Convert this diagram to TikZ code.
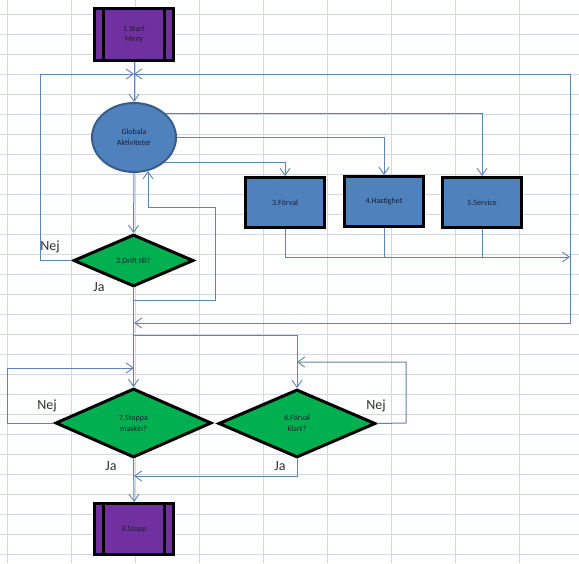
\documentclass[tikz,border=0pt]{standalone}
\usepackage{fontspec}
\setmainfont{Carlito}
\usetikzlibrary{shapes.geometric,arrows.meta,calc}
\definecolor{gridc}{HTML}{D0D7E5}
\definecolor{purp}{HTML}{7030A0}
\definecolor{boxblue}{HTML}{4F81BD}
\definecolor{ellborder}{HTML}{385D8A}
\definecolor{dgreen}{HTML}{00B050}
\definecolor{connc}{HTML}{5F82B9}
\definecolor{txtc}{HTML}{1E1E32}
\definecolor{lblc}{HTML}{303030}
\tikzset{
  subproc/.style={rectangle, draw=black, line width=3pt, fill=purp, minimum width=79pt, minimum height=52pt, inner sep=0pt, align=center, text=txtc, font=\fontsize{8}{9.5}\selectfont,
    path picture={\draw[line width=3pt] ([xshift=9pt]path picture bounding box.north west) -- ([xshift=9pt]path picture bounding box.south west);
                  \draw[line width=3pt] ([xshift=-9pt]path picture bounding box.north east) -- ([xshift=-9pt]path picture bounding box.south east);}},
  procbox/.style={rectangle, draw=black, line width=3pt, fill=boxblue, minimum width=79pt, minimum height=50pt, inner sep=0pt, align=center, text=txtc, font=\fontsize{8}{9.5}\selectfont},
  globell/.style={ellipse, draw=ellborder, line width=2pt, fill=boxblue, minimum width=84pt, minimum height=69pt, inner sep=0pt, align=center, text=txtc, font=\fontsize{8}{11}\selectfont},
  decis/.style={diamond, draw=black, line width=3pt, fill=dgreen, inner sep=0pt, align=center, text=txtc, font=\fontsize{8}{11}\selectfont},
  conn/.style={draw=connc, line width=1pt},
  arr/.style={conn, -{Straight Barb[length=7pt,width=10pt,line width=0.9pt]}},
  lbl/.style={text=lblc, font=\fontsize{14}{16}\selectfont, inner sep=0pt},
  gridline/.style={draw=gridc, line width=0.8pt}
}
\begin{document}
\begin{tikzpicture}[x=1pt,y=-1pt]
\useasboundingbox (0,0) rectangle (579,563);
\fill[white] (0,0) rectangle (579,563);
% spreadsheet grid
\foreach \gx in {7,71,135,199,263,327,391,455,519} {\draw[gridline] (\gx,0) -- (\gx,563);}
\foreach \k in {0,...,27} {\draw[gridline] (0,14+20*\k) -- (579,14+20*\k);}

% nodes
\node[subproc] (start) at (134,34.5) {1.Start\\Meny};
\node[globell] (glob) at (134,137.5) {Globala\\Aktiviteter};
\node[procbox] (forv) at (285,202.5) {3.Förval};
\node[procbox] (hast) at (384,201.5) {4.Hastighet};
\node[procbox] (svc) at (482,202.5) {5.Service};
\node[decis, minimum width=120pt, minimum height=52pt] (d2) at (133.5,260.5) {2.Drift till?};
\node[decis, minimum width=156pt, minimum height=69pt] (d7) at (133.5,423) {7.Stoppa\\maskin?};
\node[decis, minimum width=157pt, minimum height=68pt] (d6) at (297,423.5) {6.Förval\\klart?};
\node[subproc, minimum height=51pt] (stop) at (134,529) {8.Stopp};

% helper coordinates
\coordinate (tj) at (134,74);
\coordinate (lc) at (40,74);
\coordinate (rc) at (570,74);
\coordinate (rb) at (570,323);
\coordinate (mj) at (134,323);
\coordinate (cr) at (570,257);
\coordinate (ja1) at (134,300);
\coordinate (ja2) at (215,300);
\coordinate (ja3) at (215,207);
\coordinate (ja4) at (148,207);
\coordinate (br) at (134,335);
\coordinate (n7) at (7,423);
\coordinate (n7t) at (134,368);
\coordinate (n6) at (406,423);
\coordinate (n6t) at (297,362);
\coordinate (j6) at (134,476);

% connectors
\draw[arr] (start.south) -- (glob.north);
\draw[arr] (d2.west) -| (lc) -- (tj);
\draw[arr] (rc) -- (tj);
\draw[arr] (rc) -- (rb) -- (mj);
\draw[arr] ($(glob.center)+(31,-24.5)$) -| (svc.north);
\draw[arr] (glob.east) -| (hast.north);
\draw[arr] ($(glob.center)+(30,25)$) -| (forv.north);
\draw[arr] (forv.south) |- (cr);
\draw[conn] (hast.south) -- (hast.south |- cr);
\draw[conn] (svc.south) -- (svc.south |- cr);
\draw[arr] (glob.south) -- (d2.north);
\draw[arr] (d2.south) -- (d7.north);
\draw[arr] (ja1) -- (ja2) -- (ja3) -- (ja4) -- ($(glob.center)+(14,33.6)$);
\draw[arr] (br) -| (d6.north);
\draw[arr] (d7.west) -- (n7) |- (n7t);
\draw[arr] (d6.east) -- (n6) |- (n6t);
\draw[arr] (d6.south) |- (j6);
\draw[arr] (d7.south) -- (stop.north);

% labels
\node[lbl] (l1) at (50,247) {Nej};
\node[lbl] (l2) at (99,287) {Ja};
\node[lbl] (l3) at (47,406) {Nej};
\node[lbl] (l4) at (111,466) {Ja};
\node[lbl] (l5) at (280,466) {Ja};
\node[lbl] (l6) at (376,406) {Nej};
\end{tikzpicture}
\end{document}
